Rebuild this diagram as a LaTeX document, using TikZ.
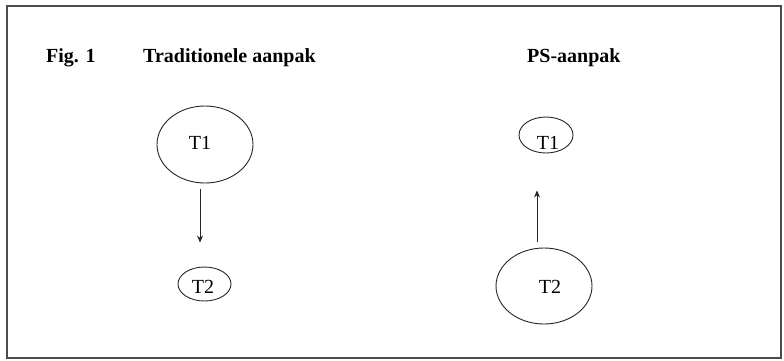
\documentclass[tikz,border=0pt]{standalone}
\usepackage{fontspec}
\setmainfont{Liberation Serif}
\usetikzlibrary{shapes.geometric,arrows.meta}
\begin{document}
\begin{tikzpicture}[x=1pt,y=-1pt,
  oval/.style={draw=black!85, line width=0.9pt, ellipse, inner sep=0pt},
  lbl/.style={font=\fontsize{20}{24}\selectfont, inner sep=0pt},
  ttl/.style={font=\fontsize{20}{24}\selectfont\bfseries, inner sep=0pt, anchor=west},
  arr/.style={draw=black!85, line width=0.9pt, -{Stealth[length=7pt,width=6pt]}}]
\useasboundingbox (0,0) rectangle (784,360);
\draw[line width=1.6pt, black!70] (7,6) rectangle (781,358);
% titles
\node[ttl] (fig) at (46,58) {Fig. 1};
\node[ttl] (trad) at (143,58) {Traditionele aanpak};
\node[ttl] (ps) at (527,58) {PS-aanpak};
% left diagram
\node[oval, minimum width=96pt, minimum height=77pt] (lt1) at (205,144.5) {};
\node[lbl] (lt1t) at (200,143) {T1};
\node[oval, minimum width=53pt, minimum height=34pt] (lt2) at (204.5,284) {};
\node[lbl] (lt2t) at (203,287) {T2};
\draw[arr] ([xshift=-5pt,yshift=-6pt]lt1.south) -- ([xshift=-4.5pt,yshift=24pt]lt2.north);
% right diagram
\node[oval, minimum width=54pt, minimum height=36pt] (rt1) at (546,135) {};
\node[lbl] (rt1t) at (548,143) {T1};
\node[oval, minimum width=96pt, minimum height=76pt] (rt2) at (544,286) {};
\node[lbl] (rt2t) at (550,287) {T2};
\draw[arr] ([xshift=-7pt,yshift=6pt]rt2.north) -- ([xshift=-9pt,yshift=-37pt]rt1.south);
\end{tikzpicture}
\end{document}
